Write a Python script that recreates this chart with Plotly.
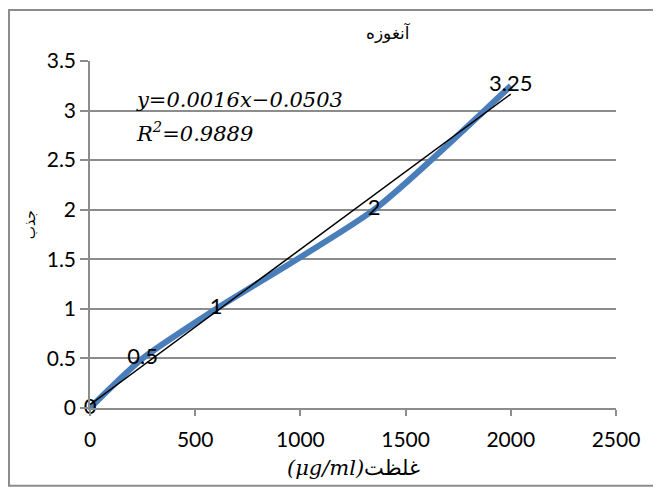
import numpy as np
import plotly.graph_objects as go

# Data
concentration = [0, 250, 600, 1350, 2000]
absorbance = [0, 0.5, 1, 2, 3.25]
point_labels = ["0", "0.5", "1", "2", "3.25"]
x_ticks = [0, 500, 1000, 1500, 2000, 2500]
y_ticks = [0, 0.5, 1, 1.5, 2, 2.5, 3, 3.5]
title_text = "آنغوزه"
x_title = "(μg/ml)"
x_title_fa = "غلظت"
y_title = "جذب"
eq_text = "y=0.0016x−0.0503"
r2_text = "R<sup>2</sup>=0.9889"

slope, intercept = np.polyfit(concentration, absorbance, 1)
trend_x = [min(concentration), max(concentration)]
trend_y = [slope * v + intercept for v in trend_x]

fig = go.Figure()
fig.add_trace(go.Scatter(
    x=concentration, y=absorbance, mode="lines+text",
    line=dict(color="#4A7EBB", width=6, shape="spline", smoothing=0.6),
    text=point_labels, textposition="middle center",
    textfont=dict(family="Lato", size=22, color="black"),
    showlegend=False, cliponaxis=False,
))
fig.add_trace(go.Scatter(
    x=trend_x, y=trend_y, mode="lines",
    line=dict(color="black", width=1.5), showlegend=False,
))

grid = "#8c8c8c"
fig.update_layout(
    width=653, height=479,
    margin=dict(l=82, r=45, t=53, b=79),
    paper_bgcolor="white", plot_bgcolor="white",
    xaxis=dict(range=[0, 2500], tickvals=x_ticks, showgrid=False,
               showline=True, linecolor=grid, linewidth=1.5,
               ticks="outside", ticklen=6, tickcolor=grid, tickwidth=1.5,
               tickfont=dict(family="Lato", size=21, color="black"),
               zeroline=False, ticklabelstandoff=6),
    yaxis=dict(range=[0, 3.5], tickvals=y_ticks, showgrid=True,
               gridcolor=grid, gridwidth=1.5,
               showline=True, linecolor=grid, linewidth=1.5,
               ticks="outside", ticklen=8, tickcolor=grid, tickwidth=1.5,
               tickfont=dict(family="Lato", size=21, color="black"),
               zeroline=False, ticklabelstandoff=0),
    shapes=[dict(type="rect", xref="paper", yref="paper",
                 x0=-0.154, x1=1.082, y0=-0.224, y1=1.147,
                 line=dict(color="#8c8c8c", width=2), fillcolor="rgba(0,0,0,0)",
                 layer="below")],
    annotations=[
        dict(text=title_text, xref="paper", yref="paper", x=0.568, y=1.081,
             yanchor="middle", showarrow=False,
             font=dict(family="DejaVu Sans", size=17, color="black")),
        dict(text="<i>" + x_title + "</i>" + x_title_fa,
             xref="paper", yref="paper", yanchor="middle",
             x=0.5, y=-0.172, showarrow=False,
             font=dict(family="DejaVu Serif", size=21, color="black")),
        dict(text=y_title, xref="paper", yref="paper", x=-0.133, y=0.527,
             yanchor="middle", textangle=-90, showarrow=False,
             font=dict(family="DejaVu Sans", size=14, color="black")),
        dict(text="<i>" + eq_text + "</i>", xref="paper", yref="paper",
             x=0.084, y=0.888, xanchor="left", yanchor="middle", showarrow=False,
             font=dict(family="DejaVu Serif", size=21, color="black")),
        dict(text="<i>" + r2_text + "</i>", xref="paper", yref="paper",
             x=0.084, y=0.795, xanchor="left", yanchor="middle", showarrow=False,
             font=dict(family="DejaVu Serif", size=21, color="black")),
    ],
)
fig.write_html("out.html")
